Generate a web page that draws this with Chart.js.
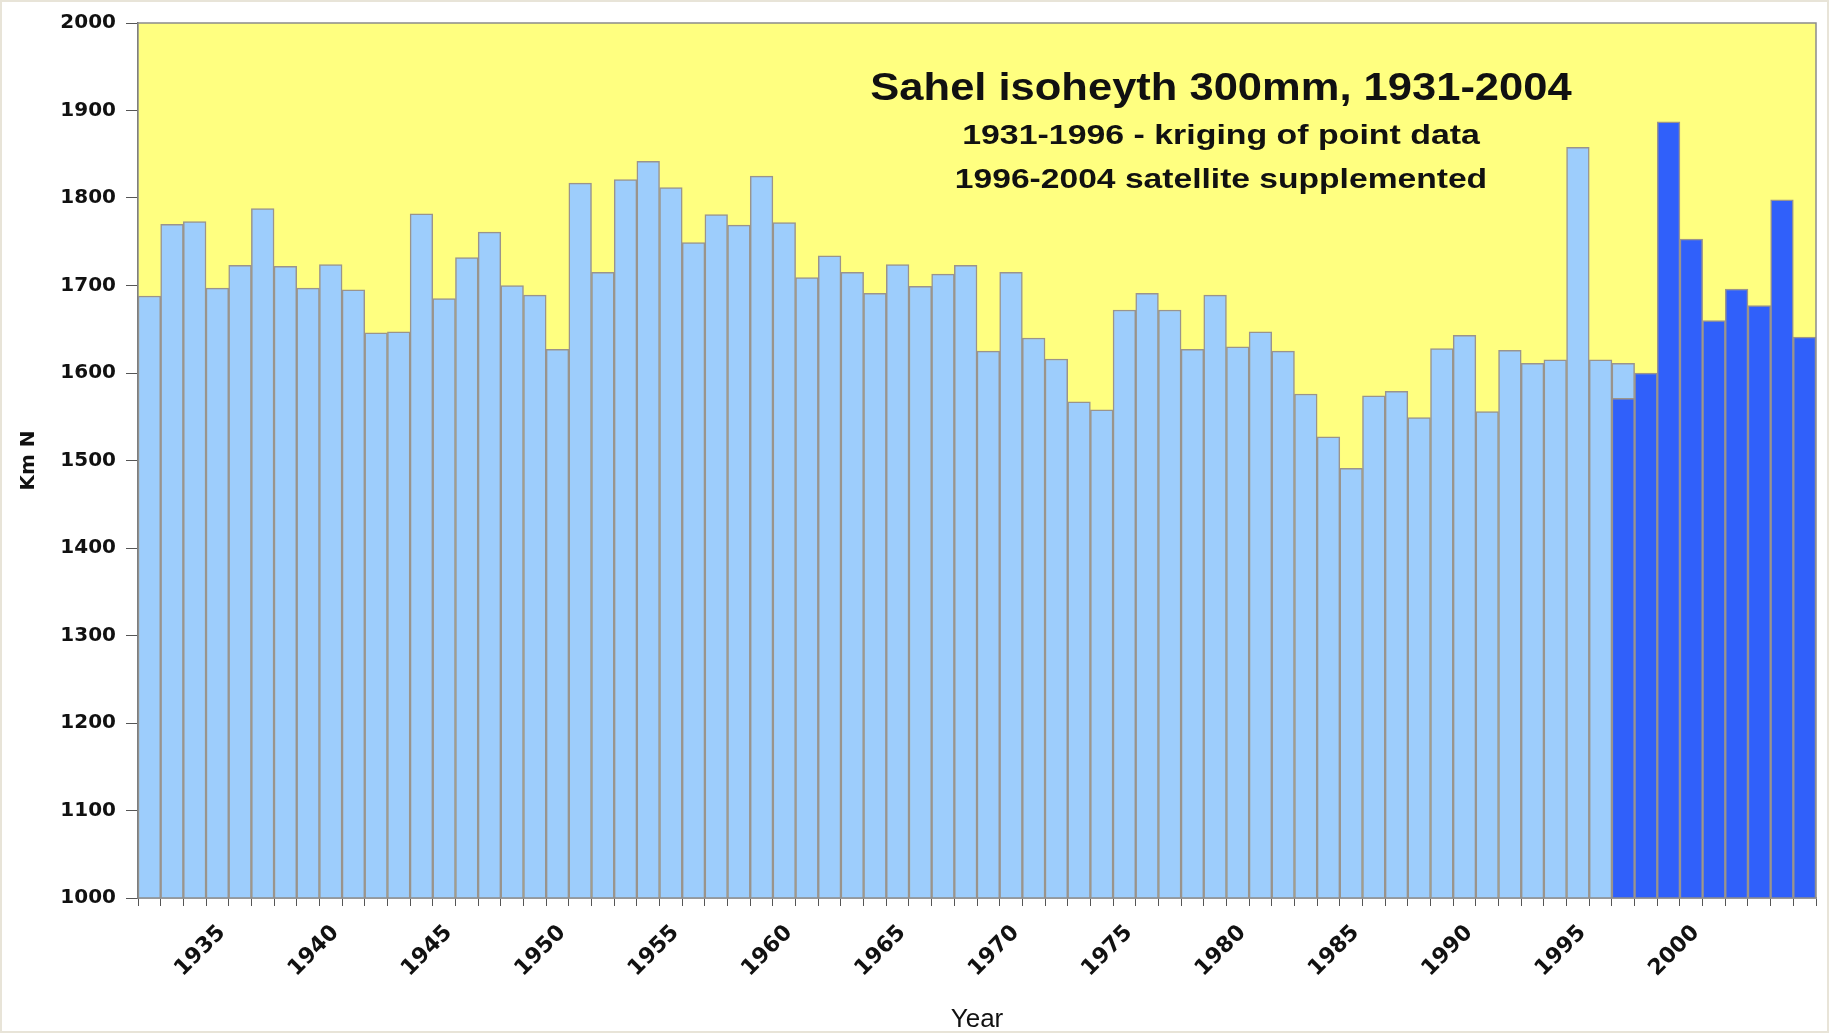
<!DOCTYPE html>
<html>
<head>
<meta charset="utf-8">
<title>Sahel isoheyth 300mm</title>
<script src="https://cdn.jsdelivr.net/npm/chart.js@4.4.1/dist/chart.umd.min.js"></script>
<style>
  html, body { margin: 0; padding: 0; background: #ffffff; }
  #wrap { width: 1829px; height: 1033px; }
</style>
</head>
<body>
<div id="wrap"><canvas id="sahel" width="1829" height="1033"></canvas></div>
<script>
// years on the category axis
const years = [
  '1931','1932','1933','1934','1935','1936','1937','1938','1939','1940',
  '1941','1942','1943','1944','1945','1946','1947','1948','1949','1950',
  '1951','1952','1953','1954','1955','1956','1957','1958','1959','1960',
  '1961','1962','1963','1964','1965','1966','1967','1968','1969','1970',
  '1971','1972','1973','1974','1975','1976','1977','1978','1979','1980',
  '1981','1982','1983','1984','1985','1986','1987','1988','1989','1990',
  '1991','1992','1993','1994','1995','1996','1997','1998','1999','2000',
  '2001','2002','2003','2004'
];

// 1931-1996 kriging of point data (km N)
const krigingYears = years.slice(0, 66);
const krigingValues = [
  1688, 1770, 1773, 1697, 1723, 1788, 1722, 1697, 1724, 1695,
  1646, 1647, 1782, 1685, 1732, 1761, 1700, 1689, 1627, 1817,
  1715, 1821, 1842, 1812, 1749, 1781, 1769, 1825, 1772, 1709,
  1734, 1715, 1691, 1724, 1699, 1713, 1723, 1625, 1715, 1640,
  1616, 1567, 1558, 1672, 1691, 1672, 1627, 1689, 1630, 1647,
  1625, 1576, 1527, 1491, 1574, 1579, 1549, 1628, 1643, 1556,
  1626, 1611, 1615, 1858, 1615, 1611
];

// 1996-2004 satellite supplemented (km N)
const satelliteYears = ['1996','1997','1998','1999','2000','2001','2002','2003','2004'];
const satelliteValues = [1571, 1600, 1887, 1753, 1660, 1696, 1677, 1798, 1641];

const tickYears = ['1935','1940','1945','1950','1955','1960','1965','1970','1975','1980','1985','1990','1995','2000'];

// text lines inside the plot (the source image has wide, stretched lettering)
const titleLines = [
  { text: 'Sahel isoheyth 300mm, 1931-2004', size: 38.5, stretch: 1.13, y: 100 },
  { text: '1931-1996 - kriging of point data', size: 28, stretch: 1.21, y: 144 },
  { text: '1996-2004 satellite supplemented', size: 28, stretch: 1.20, y: 188 }
];

function seriesFor(keys, vals) {
  return years.map(y => {
    const i = keys.indexOf(y);
    return i < 0 ? null : vals[i];
  });
}

// yellow plot area + frame + the title block inside the plot
const plotDecor = {
  id: 'plotDecor',
  beforeDatasetsDraw(chart) {
    const { ctx, chartArea: a } = chart;
    ctx.save();
    ctx.fillStyle = '#ffff80';
    ctx.fillRect(a.left, a.top, a.right - a.left, a.bottom - a.top);
    ctx.restore();
  },
  afterDatasetsDraw(chart) {
    const { ctx, chartArea: a } = chart;
    ctx.save();
    ctx.strokeStyle = '#8c8c8c';
    ctx.lineWidth = 1.5;
    ctx.strokeRect(a.left, a.top, a.right - a.left, a.bottom - a.top);
    ctx.fillStyle = '#111111';
    ctx.textAlign = 'center';
    ctx.textBaseline = 'alphabetic';
    titleLines.forEach(l => {
      ctx.save();
      ctx.font = 'bold ' + l.size + 'px "Liberation Sans", Arial, sans-serif';
      ctx.translate(1221, l.y);
      ctx.scale(l.stretch, 1);
      ctx.fillText(l.text, 0, 0);
      ctx.restore();
    });
    ctx.restore();
  },
  afterDraw(chart) {
    // faint beige edge round the whole picture
    const { ctx, width, height } = chart;
    ctx.save();
    ctx.strokeStyle = '#e8e4d8';
    ctx.lineWidth = 4;
    ctx.strokeRect(0, 0, width, height);
    ctx.restore();
  }
};

const ctx = document.getElementById('sahel');

new Chart(ctx, {
  type: 'bar',
  data: {
    labels: years,
    datasets: [
      {
        label: '1996-2004 satellite supplemented',
        data: seriesFor(satelliteYears, satelliteValues),
        backgroundColor: '#3060fa',
        borderColor: '#9a948c',
        borderWidth: 1.5,
        grouped: false,
        order: 0
      },
      {
        label: '1931-1996 kriging of point data',
        data: seriesFor(krigingYears, krigingValues),
        backgroundColor: '#9dcdfc',
        borderColor: '#9a948c',
        borderWidth: 1.5,
        grouped: false,
        order: 1
      }
    ]
  },
  options: {
    responsive: false,
    animation: false,
    devicePixelRatio: 1,
    barPercentage: 1,
    categoryPercentage: 1,
    layout: { padding: { top: 23, right: 13, left: 0, bottom: 0 } },
    plugins: {
      legend: { display: false },
      tooltip: { enabled: false },
      title: { display: false }
    },
    scales: {
      x: {
        afterFit(scale) {
          scale.height = 135;
          scale.paddingLeft = 0;
          scale.paddingRight = 0;
        },
        grid: { display: true, drawOnChartArea: false, drawTicks: true, tickLength: 8, offset: true, color: '#555555' },
        border: { display: true, color: '#8c8c8c', width: 1.5 },
        ticks: {
          autoSkip: false,
          maxRotation: 45,
          minRotation: 45,
          padding: 14,
          labelOffset: -18,
          color: '#111111',
          font: { family: '"DejaVu Sans", sans-serif', size: 22, weight: 'bold' },
          callback(value) {
            const y = this.getLabelForValue(value);
            return tickYears.includes(y) ? y : '';
          }
        },
        title: {
          display: true,
          text: 'Year',
          color: '#111111',
          font: { family: '"Liberation Sans", Arial, sans-serif', size: 26, weight: 'normal', lineHeight: 1 },
          padding: { top: 0, bottom: 0 }
        }
      },
      y: {
        min: 1000,
        max: 2000,
        afterFit(scale) { scale.width = 138; },
        grid: { display: true, drawOnChartArea: false, drawTicks: true, tickLength: 12, color: '#555555' },
        border: { display: true, color: '#555555', width: 1.5 },
        ticks: {
          stepSize: 100,
          padding: 10,
          color: '#111111',
          font: { family: '"DejaVu Sans", sans-serif', size: 20, weight: 'bold' },
          callback: v => String(v)
        },
        title: {
          display: true,
          text: 'Km N',
          color: '#111111',
          font: { family: '"DejaVu Sans", sans-serif', size: 20, weight: 'bold' },
          padding: { top: 17, bottom: 0 }
        }
      }
    }
  },
  plugins: [plotDecor]
});
</script>
</body>
</html>
